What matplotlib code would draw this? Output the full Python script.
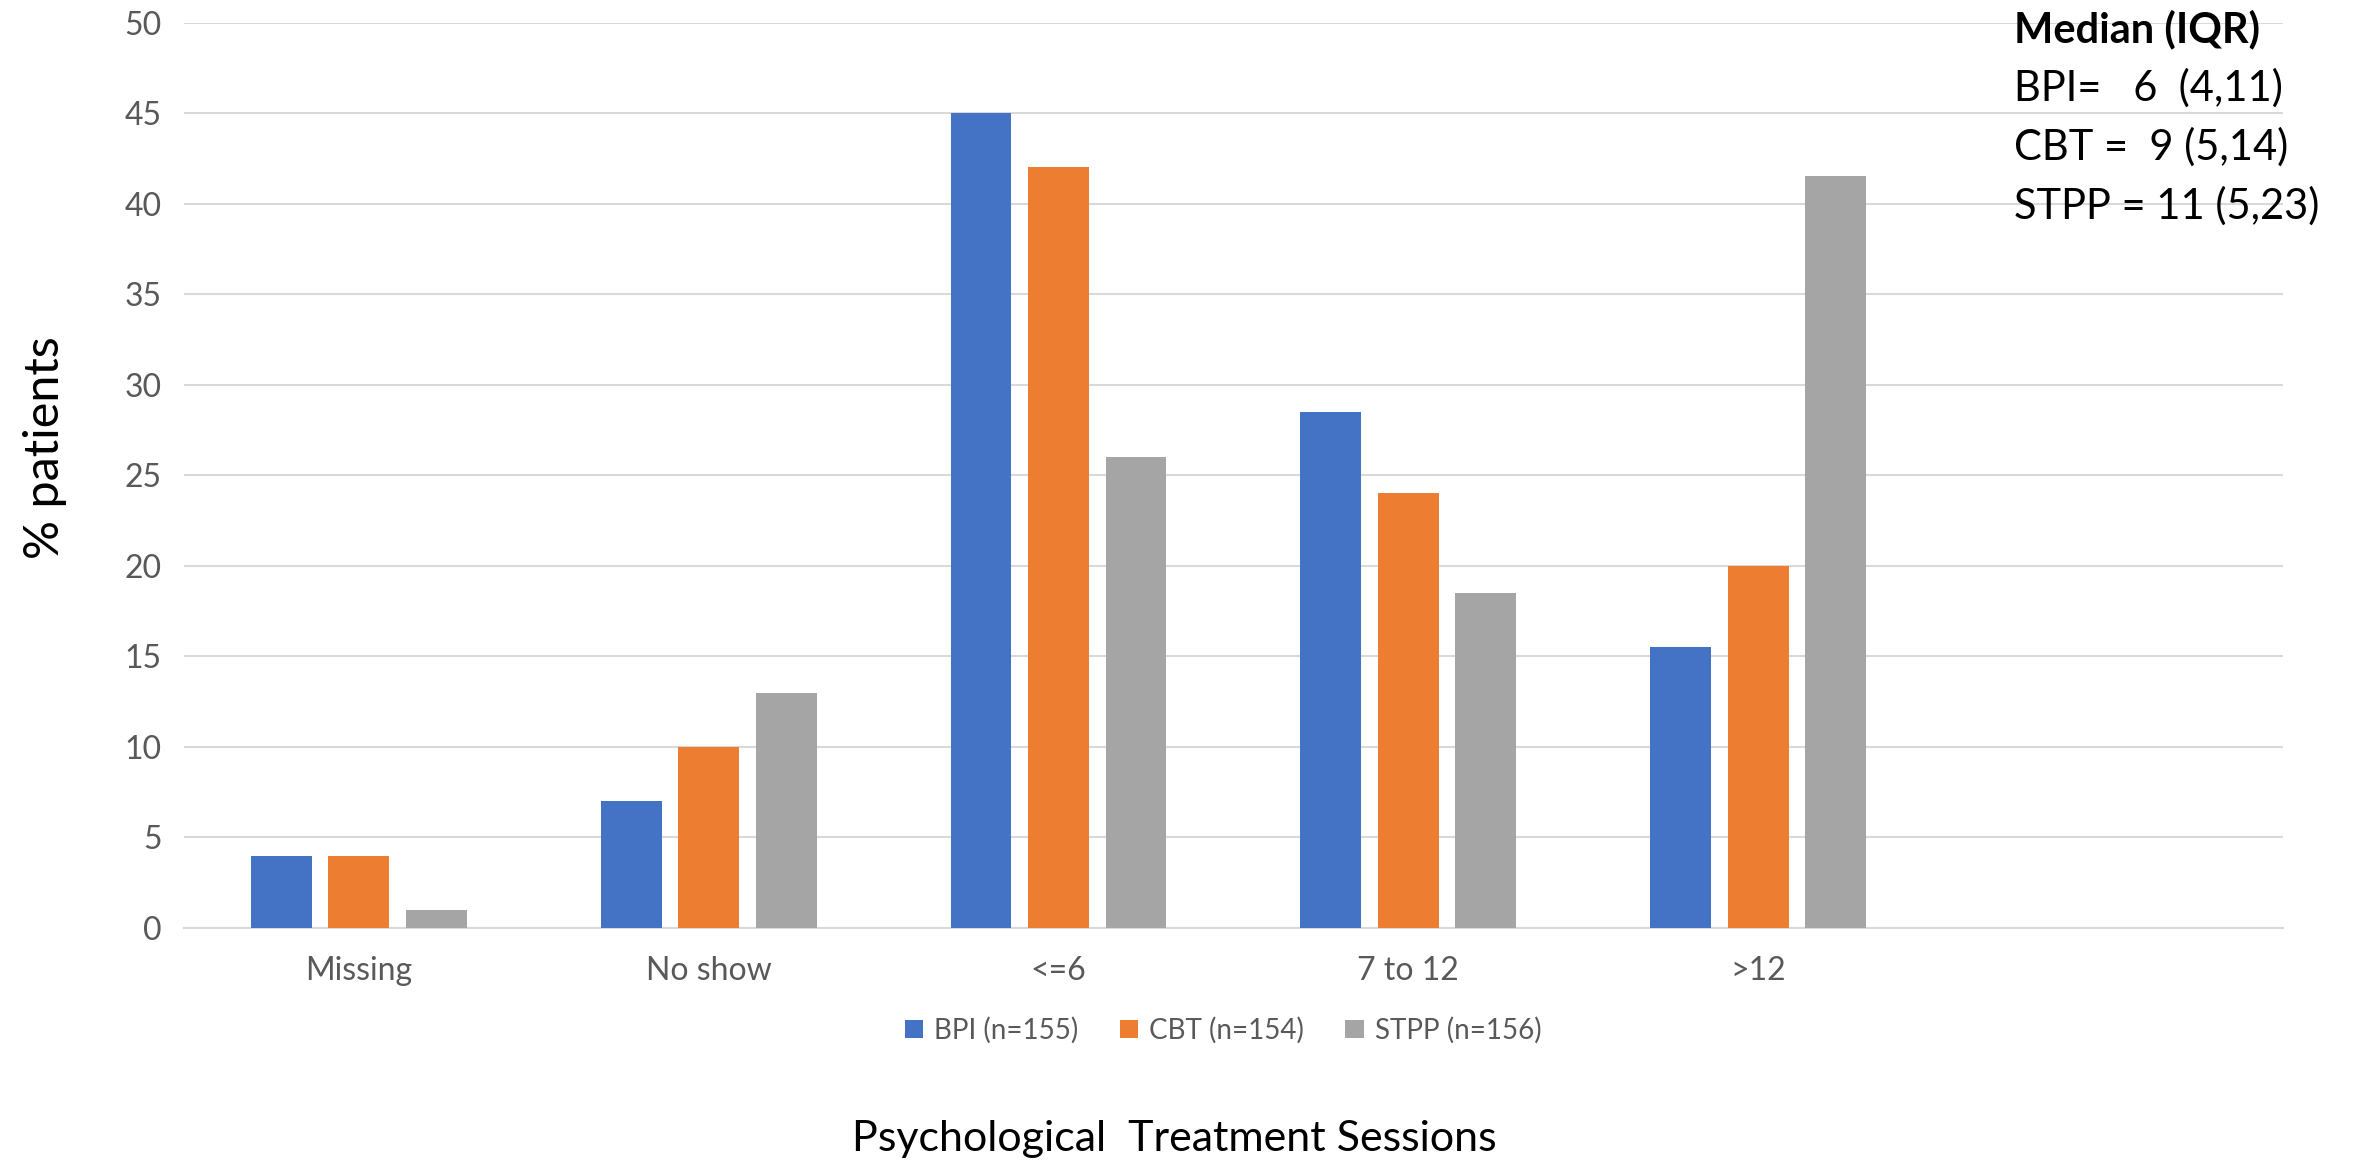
import numpy as np
import matplotlib
matplotlib.use("Agg")
import matplotlib.pyplot as plt

plt.rcParams['font.family'] = ['Lato', 'DejaVu Sans']

categories = ["Missing", "No show", "<=6", "7 to 12", ">12", ""]
bpi = [4, 7, 45, 28.5, 15.5]
cbt = [4, 10, 42, 24, 20]
stpp = [1, 13, 26, 18.5, 41.5]
series_names = ["BPI (n=155)", "CBT (n=154)", "STPP (n=156)"]
colors = ["#4472C4", "#ED7D31", "#A5A5A5"]
median_lines = ["BPI=   6  (4,11)", "CBT =  9 (5,14)", "STPP = 11 (5,23)"]


def main():
    fig = plt.figure(figsize=(23.61, 11.68), dpi=100)
    ax = fig.add_axes([0.0779, 0.2055, 0.889, 0.7752])

    x = np.arange(len(bpi))
    w = 0.174
    step = 0.2215
    for i, (vals, name, c) in enumerate(zip([bpi, cbt, stpp], series_names, colors)):
        ax.bar(x + (i - 1) * step, vals, width=w, color=c, label=name, zorder=3)

    ax.set_xlim(-0.5, len(categories) - 0.5)
    ax.set_ylim(0, 50)
    ax.set_yticks(range(0, 51, 5))
    ax.set_xticks(range(len(categories)))
    ax.set_xticklabels(categories)
    ax.grid(axis="y", color="#D9D9D9", linewidth=1.5, zorder=0)
    for s in ["top", "right", "left"]:
        ax.spines[s].set_visible(False)
    ax.spines["bottom"].set_color("#D9D9D9")
    ax.spines["bottom"].set_linewidth(1.5)
    ax.tick_params(axis="both", length=0, labelsize=23, colors="#595959", pad=16)
    ax.tick_params(axis="x", pad=20)

    ax.set_ylabel("% patients", fontsize=35, va="center")
    ax.yaxis.set_label_coords(-0.066, 0.53)
    fig.text(0.4975, 0.0245, "Psychological  Treatment Sessions", fontsize=31, ha="center", va="center")

    leg = fig.legend(loc="center", bbox_to_anchor=(0.518, 0.118), ncol=3, frameon=False,
                     fontsize=20, handlelength=0.65, handleheight=0.65, handletextpad=0.4,
                     columnspacing=1.5)
    for t in leg.get_texts():
        t.set_color("#595959")

    fig.text(0.853, 0.992, "Median (IQR)", fontsize=30, fontweight="bold", va="top")
    for k, line in enumerate(median_lines):
        fig.text(0.853, 0.992 - 0.0505 * (k + 1), line, fontsize=30, va="top")

    fig.savefig("out.png", dpi=100)


if __name__ == "__main__":
    main()
